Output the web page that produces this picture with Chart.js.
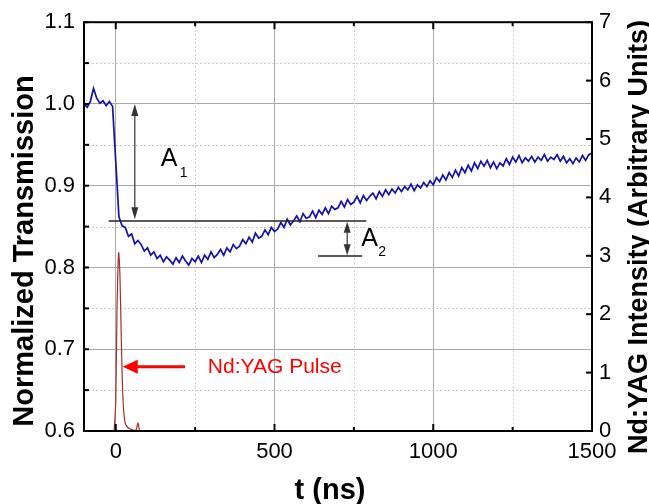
<!DOCTYPE html>
<html>
<head>
<meta charset="utf-8">
<script src="https://cdn.jsdelivr.net/npm/chart.js@4.4.1/dist/chart.umd.min.js"></script>
<style>
  html, body { margin: 0; padding: 0; background: #fff; }
</style>
</head>
<body>
<canvas id="transChart" width="649" height="504"></canvas>
<script>
// probe transmission (left axis), sampled every 10 ns
const timeNs = [
  -100, -90, -80, -70, -60, -50, -40, -30, -20, -10,
  0, 10, 20, 30, 40, 50, 60, 70, 80, 90,
  100, 110, 120, 130, 140, 150, 160, 170, 180, 190,
  200, 210, 220, 230, 240, 250, 260, 270, 280, 290,
  300, 310, 320, 330, 340, 350, 360, 370, 380, 390,
  400, 410, 420, 430, 440, 450, 460, 470, 480, 490,
  500, 510, 520, 530, 540, 550, 560, 570, 580, 590,
  600, 610, 620, 630, 640, 650, 660, 670, 680, 690,
  700, 710, 720, 730, 740, 750, 760, 770, 780, 790,
  800, 810, 820, 830, 840, 850, 860, 870, 880, 890,
  900, 910, 920, 930, 940, 950, 960, 970, 980, 990,
  1000, 1010, 1020, 1030, 1040, 1050, 1060, 1070, 1080, 1090,
  1100, 1110, 1120, 1130, 1140, 1150, 1160, 1170, 1180, 1190,
  1200, 1210, 1220, 1230, 1240, 1250, 1260, 1270, 1280, 1290,
  1300, 1310, 1320, 1330, 1340, 1350, 1360, 1370, 1380, 1390,
  1400, 1410, 1420, 1430, 1440, 1450, 1460, 1470, 1480, 1490,
  1500
];
const transmission = [
  1.000, 0.996, 1.003, 1.019, 1.007, 1.001, 1.004, 0.998, 1.003, 0.997,
  0.930, 0.862, 0.851, 0.849, 0.838, 0.841, 0.829, 0.833, 0.828, 0.820,
  0.824, 0.815, 0.819, 0.811, 0.815, 0.807, 0.813, 0.809, 0.804, 0.812,
  0.806, 0.814, 0.808, 0.803, 0.811, 0.807, 0.814, 0.806, 0.815, 0.810,
  0.819, 0.812, 0.816, 0.822, 0.815, 0.824, 0.819, 0.828, 0.823, 0.826,
  0.834, 0.829, 0.837, 0.831, 0.842, 0.836, 0.838, 0.846, 0.840, 0.849,
  0.844, 0.847, 0.855, 0.849, 0.859, 0.852, 0.857, 0.863, 0.856, 0.866,
  0.860, 0.862, 0.869, 0.861, 0.870, 0.865, 0.873, 0.866, 0.875, 0.871,
  0.873, 0.881, 0.874, 0.883, 0.877, 0.880, 0.887, 0.879, 0.888, 0.882,
  0.887, 0.891, 0.884, 0.893, 0.887, 0.895, 0.889, 0.896, 0.891, 0.898,
  0.893, 0.899, 0.895, 0.902, 0.894, 0.901, 0.897, 0.904, 0.899, 0.906,
  0.901, 0.910, 0.905, 0.913, 0.907, 0.916, 0.910, 0.919, 0.912, 0.922,
  0.916, 0.925, 0.918, 0.928, 0.921, 0.930, 0.924, 0.931, 0.922, 0.929,
  0.921, 0.928, 0.924, 0.933, 0.926, 0.935, 0.929, 0.937, 0.928, 0.934,
  0.930, 0.936, 0.929, 0.935, 0.931, 0.938, 0.930, 0.935, 0.932, 0.938,
  0.930, 0.936, 0.928, 0.933, 0.927, 0.934, 0.929, 0.937, 0.931, 0.938,
  0.940
];

// Nd:YAG pump pulse (right axis)
const pulseTime = [-5, 0, 4, 9, 13, 17, 21, 25, 30, 38, 48, 58, 64, 70, 75, 82, 90];
const pulseIntensity = [0, 0.5, 2.1, 3.05, 2.7, 1.7, 0.8, 0.35, 0.13, 0.06, 0.03, 0.01, 0.02, 0.14, 0.01, 0, 0];

// tick labels
const xTicks = [0, 500, 1000, 1500];
const xMinor = [250, 750, 1250];
const yTicks = [0.6, 0.7, 0.8, 0.9, 1.0, 1.1];
const yMinor = [0.65, 0.75, 0.85, 0.95, 1.05];
const y2Ticks = [0, 1, 2, 3, 4, 5, 6, 7];

Chart.defaults.font.family = "Arial, 'Liberation Sans', sans-serif";
Chart.defaults.color = "#000";

function toPoints(xs, ys) {
  return xs.map((x, i) => ({ x: x, y: ys[i] }));
}

function arrowHead(ctx, x, y, dx, dy, len, half) {
  // tip at (x, y), pointing along (dx, dy)
  const bx = x - dx * len, by = y - dy * len;
  ctx.beginPath();
  ctx.moveTo(x, y);
  ctx.lineTo(bx - dy * half, by + dx * half);
  ctx.lineTo(bx + dy * half, by - dx * half);
  ctx.closePath();
  ctx.fill();
}

function seg(ctx, x1, y1, x2, y2) {
  ctx.beginPath();
  ctx.moveTo(x1, y1);
  ctx.lineTo(x2, y2);
  ctx.stroke();
}

const decorPlugin = {
  id: "decor",
  beforeDatasetsDraw(chart) {
    const { ctx, chartArea: a, scales } = chart;
    ctx.save();
    ctx.strokeStyle = "#cfcfcf";
    ctx.lineWidth = 1;
    ctx.setLineDash([2, 2]);
    xMinor.forEach((v) => {
      const px = Math.round(scales.x.getPixelForValue(v)) + 0.5;
      seg(ctx, px, a.top, px, a.bottom);
    });
    yMinor.forEach((v) => {
      const py = Math.round(scales.y.getPixelForValue(v)) + 0.5;
      seg(ctx, a.left, py, a.right, py);
    });
    ctx.restore();
  },
  afterDatasetsDraw(chart) {
    const { ctx, chartArea: a, scales } = chart;
    const X = (v) => scales.x.getPixelForValue(v);
    const Y = (v) => scales.y.getPixelForValue(v);
    const Y2 = (v) => scales.y2.getPixelForValue(v);
    ctx.save();

    // frame
    ctx.strokeStyle = "#000";
    ctx.lineWidth = 2;
    ctx.strokeRect(a.left, a.top, a.right - a.left, a.bottom - a.top);

    // inward ticks
    ctx.lineWidth = 2;
    xTicks.concat(xMinor).forEach((v) => {
      const px = X(v);
      const len = xTicks.includes(v) ? 7 : 4;
      seg(ctx, px, a.bottom, px, a.bottom - len);
      seg(ctx, px, a.top, px, a.top + len);
    });
    yTicks.concat(yMinor).forEach((v) => {
      const py = Y(v);
      seg(ctx, a.left, py, a.left + 5, py);
    });
    y2Ticks.forEach((v) => {
      const py = Y2(v);
      seg(ctx, a.right, py, a.right - 6, py);
    });

    // A1 / A2 guide lines
    ctx.strokeStyle = "#222";
    ctx.fillStyle = "#222";
    ctx.lineWidth = 1.5;
    seg(ctx, X(-22), Y(0.857), X(789), Y(0.857));
    seg(ctx, X(637), Y(0.814), X(776), Y(0.814));

    ctx.lineWidth = 1.2;
    ctx.strokeStyle = "#333";
    ctx.fillStyle = "#333";
    seg(ctx, X(60), Y(1.0) + 8, X(60), Y(0.859) - 8);
    arrowHead(ctx, X(60), Y(1.0), 0, -1, 12, 3.5);
    arrowHead(ctx, X(60), Y(0.859), 0, 1, 12, 3.5);
    seg(ctx, X(729), Y(0.856) + 8, X(729), Y(0.815) - 8);
    arrowHead(ctx, X(729), Y(0.856), 0, -1, 11, 3.5);
    arrowHead(ctx, X(729), Y(0.815), 0, 1, 11, 3.5);

    ctx.fillStyle = "#000";
    ctx.textAlign = "left";
    ctx.textBaseline = "alphabetic";
    ctx.font = "25px Arial, 'Liberation Sans', sans-serif";
    ctx.fillText("A", X(142), Y(0.924));
    ctx.fillText("A", X(773), Y(0.826));
    ctx.font = "14px Arial, 'Liberation Sans', sans-serif";
    ctx.fillText("1", X(142) + 19, Y(0.924) + 11);
    ctx.fillText("2", X(773) + 17, Y(0.826) + 10);

    // Nd:YAG pulse pointer
    ctx.strokeStyle = "#ff0000";
    ctx.fillStyle = "#ff0000";
    ctx.lineWidth = 3;
    seg(ctx, X(218), Y2(1.10), X(22) + 12, Y2(1.10));
    arrowHead(ctx, X(22), Y2(1.10), -1, 0, 15, 7);
    ctx.font = "21px Arial, 'Liberation Sans', sans-serif";
    ctx.textBaseline = "middle";
    ctx.fillText("Nd:YAG Pulse", X(290), Y2(1.10));

    // axis titles
    ctx.fillStyle = "#000";
    ctx.textAlign = "center";
    ctx.textBaseline = "alphabetic";
    ctx.font = "bold 29px Arial, 'Liberation Sans', sans-serif";
    ctx.save();
    ctx.translate(33, 251);
    ctx.rotate(-Math.PI / 2);
    ctx.fillText("Normalized Transmission", 0, 0);
    ctx.restore();
    ctx.fillText("t (ns)", 330, 499);
    ctx.font = "bold 27px Arial, 'Liberation Sans', sans-serif";
    ctx.save();
    ctx.translate(647, 237);
    ctx.rotate(-Math.PI / 2);
    ctx.fillText("Nd:YAG Intensity (Arbitrary Units)", 0, 0);
    ctx.restore();

    ctx.restore();
  }
};

const ctx = document.getElementById("transChart");

new Chart(ctx, {
  type: "line",
  data: {
    datasets: [
      {
        label: "Normalized Transmission",
        data: toPoints(timeNs, transmission),
        yAxisID: "y",
        borderColor: "#1212a6",
        borderWidth: 1.7,
        pointRadius: 0,
        tension: 0
      },
      {
        label: "Nd:YAG Pulse",
        data: toPoints(pulseTime, pulseIntensity),
        yAxisID: "y2",
        borderColor: "#a0302a",
        borderWidth: 1.2,
        pointRadius: 0,
        tension: 0.3
      }
    ]
  },
  options: {
    responsive: false,
    animation: false,
    layout: { padding: { top: 22, left: 0, right: 0, bottom: 0 } },
    plugins: {
      legend: { display: false },
      tooltip: { enabled: false }
    },
    scales: {
      x: {
        type: "linear",
        min: -100,
        max: 1500,
        afterBuildTicks: (scale) => { scale.ticks = xTicks.map((v) => ({ value: v })); },
        afterFit: (scale) => { scale.height = 73; },
        ticks: { font: { size: 22 }, padding: 8, maxRotation: 0, callback: (v) => String(v) },
        grid: { color: "#a8a8a8", drawTicks: false },
        border: { display: false }
      },
      y: {
        position: "left",
        min: 0.6,
        max: 1.1,
        afterBuildTicks: (scale) => { scale.ticks = yTicks.map((v) => ({ value: v })); },
        afterFit: (scale) => { scale.width = 84; },
        ticks: { font: { size: 22 }, padding: 9, callback: (v) => Number(v).toFixed(1) },
        grid: { color: "#a8a8a8", drawTicks: false },
        border: { display: false }
      },
      y2: {
        position: "right",
        min: 0,
        max: 7,
        afterBuildTicks: (scale) => { scale.ticks = y2Ticks.map((v) => ({ value: v })); },
        afterFit: (scale) => { scale.width = 57; },
        ticks: { font: { size: 22 }, padding: 7 },
        grid: { drawOnChartArea: false, drawTicks: false },
        border: { display: false }
      }
    }
  },
  plugins: [decorPlugin]
});
</script>
</body>
</html>
